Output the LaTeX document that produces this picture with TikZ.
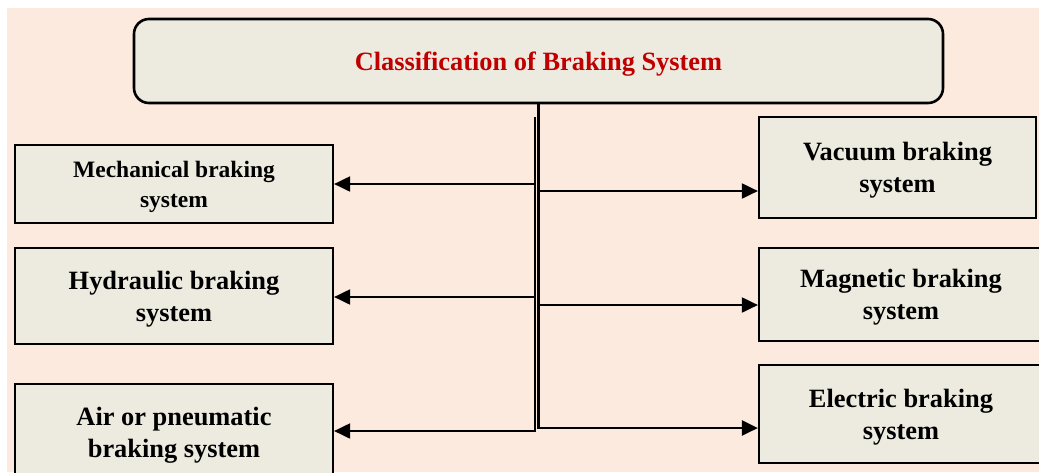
\documentclass[tikz,border=0pt]{standalone}
\usepackage{fontspec}
\setmainfont{Liberation Serif}
\usetikzlibrary{arrows.meta}
\definecolor{bg}{HTML}{FDEADE}
\definecolor{boxfill}{HTML}{EDEBE0}
\definecolor{titlered}{HTML}{C00000}
\begin{document}
\begin{tikzpicture}[x=1pt,y=-1pt,
  box/.style={draw=black, line width=2.2pt, fill=boxfill, align=center, inner sep=0pt,
    text depth=-10pt, font=\fontsize{26.4}{32}\selectfont\bfseries},
  conn/.style={draw=black, line width=2pt},
  arr/.style={conn, -{Triangle[length=16pt,width=15pt]}}]
\clip (0,0) rectangle (1039,472);
\fill[white] (0,0) rectangle (1039,472);
\fill[bg] (7,8) rectangle (1039,472);

\node[box, rounded corners=15pt, line width=2.6pt, minimum width=809pt, minimum height=84pt,
  text depth=-4pt, text=titlered] (title) at (538.5,61) {Classification of Braking System};

\node[box, minimum width=318pt, minimum height=78pt, text depth=-4pt,
  font=\fontsize{23.5}{30}\selectfont\bfseries] (mech) at (174,184) {Mechanical braking\\system};
\node[box, minimum width=318pt, minimum height=96pt] (hyd) at (174,296) {Hydraulic braking\\system};
\node[box, minimum width=318pt, minimum height=96pt] (air) at (174,432) {Air or pneumatic\\braking system};

\node[box, minimum width=277pt, minimum height=101pt] (vac) at (897.5,167.5) {Vacuum braking\\system};
\node[box, minimum width=284pt, minimum height=93pt] (mag) at (901,294.5) {Magnetic braking\\system};
\node[box, minimum width=284pt, minimum height=98pt] (elec) at (901,414) {Electric braking\\system};

% right trunk from title
\coordinate (rb) at (538.5,428);
\coordinate (jv) at (538.5,191);
\coordinate (jm) at (538.5,305);
\draw[arr, line width=2.6pt] (title.south) -- (rb) -- (elec.west |- rb);
\draw[arr] (jv) -- (vac.west |- jv);
\draw[arr] (jm) -- (mag.west |- jm);

% left trunk
\coordinate (lt) at (534.5,117);
\coordinate (lb) at (534.5,431);
\coordinate (jmech) at (534.5,184);
\coordinate (jhyd) at (534.5,297);
\draw[arr] (lt) -- (lb) -- (air.east |- lb);
\draw[arr] (jmech) -- (mech.east |- jmech);
\draw[arr] (jhyd) -- (hyd.east |- jhyd);
\end{tikzpicture}
\end{document}
